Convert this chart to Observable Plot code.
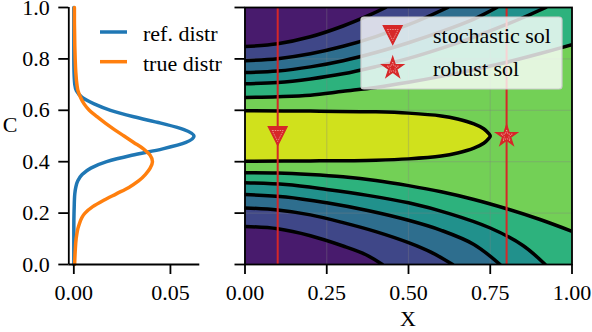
<!DOCTYPE html>
<html><head><meta charset="utf-8">
<script src="https://cdn.jsdelivr.net/npm/d3@7"></script>
<script src="https://cdn.jsdelivr.net/npm/@observablehq/plot@0.6"></script>
<style>
html,body{margin:0;padding:0;background:#fff;}
#chart{position:relative;width:592px;height:332px;overflow:hidden;}
#chart svg{position:absolute;left:0;top:0;}
</style></head><body><div id="chart"></div>
<script>
// ---------- data ----------
const densC      = [0,0.05,0.1,0.15,0.2,0.225,0.25,0.275,0.3,0.325,0.35,0.375,0.4,0.425,0.45,0.475,0.5,0.525,0.55,0.575,0.6,0.625,0.65,0.675,0.7,0.75,0.8,0.85,0.9,0.95,1.0];
const refDistr   = [0,0,0,0,0.0001,0.0002,0.0003,0.0005,0.001,0.002,0.0043,0.0088,0.017,0.030,0.046,0.058,0.0622,0.057,0.045,0.031,0.019,0.0105,0.0043,0.0014,0.0005,0.0001,0,0,0,0,0];
const trueDistr  = [0.0004,0.0007,0.0012,0.0025,0.0058,0.0098,0.0155,0.022,0.0285,0.0335,0.037,0.0395,0.0407,0.0395,0.036,0.031,0.026,0.021,0.0163,0.012,0.008,0.0053,0.0035,0.0022,0.0016,0.001,0.0007,0.0005,0.0004,0.0003,0.0003];
const densTicks  = [0, 0.05];
const cTicks     = [0, 0.2, 0.4, 0.6, 0.8, 1.0];
const xTicks     = [0, 0.25, 0.5, 0.75, 1.0];

// contour lines [X, C], outermost (1) to innermost (5)
const upper1 = [[0,0.848],[0.1,0.859],[0.2,0.886],[0.3,0.928],[0.38,0.970],[0.43,1.0]];
const upper2 = [[0,0.793],[0.1,0.801],[0.2,0.820],[0.3,0.849],[0.4,0.887],[0.5,0.933],[0.56,0.965],[0.62,1.0]];
const upper3 = [[0,0.747],[0.1,0.753],[0.2,0.769],[0.3,0.793],[0.4,0.825],[0.5,0.863],[0.6,0.906],[0.7,0.955],[0.77,1.0]];
const upper4 = [[0,0.703],[0.1,0.708],[0.2,0.722],[0.3,0.742],[0.4,0.770],[0.5,0.802],[0.6,0.841],[0.7,0.885],[0.8,0.934],[0.86,0.966],[0.92,1.0]];
const upper5 = [[0,0.650],[0.1,0.653],[0.2,0.659],[0.3,0.674],[0.4,0.689],[0.5,0.709],[0.6,0.732],[0.7,0.758],[0.8,0.787],[0.9,0.820],[1.0,0.855]];
const lower1 = [[0,0.148],[0.1,0.139],[0.2,0.112],[0.3,0.072],[0.37,0.038],[0.42,0]];
const lower2 = [[0,0.220],[0.1,0.212],[0.2,0.193],[0.3,0.163],[0.4,0.128],[0.5,0.085],[0.57,0.047],[0.635,0]];
const lower3 = [[0,0.272],[0.125,0.263],[0.25,0.240],[0.375,0.210],[0.5,0.172],[0.6,0.133],[0.7,0.078],[0.78,0]];
const lower4 = [[0,0.318],[0.125,0.311],[0.25,0.292],[0.375,0.269],[0.5,0.240],[0.625,0.198],[0.75,0.142],[0.85,0.074],[0.918,0]];
const lower5 = [[0,0.357],[0.1,0.356],[0.2,0.350],[0.3,0.341],[0.4,0.327],[0.5,0.307],[0.6,0.283],[0.7,0.253],[0.8,0.217],[0.9,0.176],[1.0,0.129]];
// innermost (yellow) region
const yellowX     = [0, 0.2, 0.4, 0.5, 0.6, 0.65, 0.7, 0.73, 0.745, 0.75];
const yellowUpper = [0.598, 0.597, 0.594, 0.589, 0.578, 0.566, 0.547, 0.528, 0.51, 0.5];
const yellowLower = [0.402, 0.403, 0.406, 0.411, 0.422, 0.434, 0.453, 0.472, 0.49, 0.5];

const solutions = [
  {name: "stochastic sol", x: 0.1, c: 0.5},
  {name: "robust sol",     x: 0.8, c: 0.5}
];
const densLegend = ["ref. distr", "true distr"];

// ---------- style ----------
const blue = "#1f77b4", orange = "#ff7f0e", red = "#d62728";
const bandColors = d3.range(7).map(i => d3.interpolateViridis((i + 0.5) / 7));
const FONT = "Liberation Serif, Times New Roman, DejaVu Serif, serif";
const FS = 22;
const style = {background: "transparent", overflow: "visible"};
const cDomain = [0, 1];
const xDomain = [0, 1];
const densDomain = [-0.0026, 0.0652];
const triangleDown = {draw(ctx, size) { const r = Math.sqrt(size / Math.PI); ctx.moveTo(-r, -r); ctx.lineTo(r, -r); ctx.lineTo(0, r); ctx.closePath(); }};

const chart = document.getElementById("chart");
function serifText(node) {
  d3.select(node).style("font-family", FONT).style("font-size", FS + "px");
  d3.select(node).selectAll("text").style("font-family", FONT).style("font-size", FS + "px");
  return node;
}

// ---------- left panel ----------
const densRows = densC.map((c, i) => ({c, ref: refDistr[i], tru: trueDistr[i]}));
const left = Plot.plot({
  width: 592, height: 332,
  marginLeft: 68.3, marginRight: 592 - 199.3, marginTop: 7, marginBottom: 68,
  x: {domain: densDomain},
  y: {domain: cDomain},
  style,
  marks: [
    Plot.line(densRows, {x: "ref", y: "c", stroke: blue, strokeWidth: 3.5, curve: "monotone-y"}),
    Plot.line(densRows, {x: "tru", y: "c", stroke: orange, strokeWidth: 3.5, curve: "monotone-y"}),
    Plot.ruleX([densDomain[0]], {stroke: "black", strokeWidth: 1.8}),
    Plot.ruleY([cDomain[0]], {stroke: "black", strokeWidth: 1.8}),
    Plot.axisY({ticks: cTicks, tickFormat: d3.format(".1f"), tickSize: 10, tickPadding: 9, strokeWidth: 1.8, label: null}),
    Plot.axisX({ticks: densTicks, tickFormat: d3.format(".2f"), tickSize: 10, tickPadding: 10, strokeWidth: 1.8, label: null})
  ]
});
chart.appendChild(serifText(left));

// ---------- right panel ----------
const uppers = [upper1, upper2, upper3, upper4, upper5];
const lowers = [lower1, lower2, lower3, lower4, lower5];
const yellowRows = yellowX.map((x, i) => ({x, lo: yellowLower[i], hi: yellowUpper[i]}));
const yellowLoop = yellowX.map((x, i) => [x, yellowUpper[i]])
  .concat(yellowX.slice(0, -1).map((x, i) => [x, yellowLower[i]]).reverse());
const CURVE = "catmull-rom";

const marks = [Plot.frame({fill: bandColors[5], stroke: "none"})];
for (let i = uppers.length - 1; i >= 0; --i) {
  marks.push(Plot.areaY(uppers[i], {x: d => d[0], y1: () => cDomain[1], y2: d => d[1], fill: bandColors[i], curve: CURVE}));
  marks.push(Plot.areaY(lowers[i], {x: d => d[0], y1: () => cDomain[0], y2: d => d[1], fill: bandColors[i], curve: CURVE}));
}
marks.push(Plot.areaY(yellowRows, {x: "x", y1: "lo", y2: "hi", fill: bandColors[6], curve: CURVE}));
marks.push(Plot.gridX({ticks: xTicks, stroke: "#808080", strokeOpacity: 0.3, strokeWidth: 1.2}));
marks.push(Plot.gridY({ticks: cTicks, stroke: "#808080", strokeOpacity: 0.3, strokeWidth: 1.2}));
for (const pts of [...uppers, ...lowers]) {
  marks.push(Plot.line(pts, {x: d => d[0], y: d => d[1], stroke: "black", strokeWidth: 3.5, curve: CURVE}));
}
marks.push(Plot.line(yellowLoop, {x: d => d[0], y: d => d[1], stroke: "black", strokeWidth: 3.5, curve: CURVE}));
marks.push(Plot.ruleX(solutions, {x: "x", stroke: red, strokeWidth: 2}));
marks.push(Plot.dot([solutions[0]], {x: "x", y: "c", symbol: triangleDown, r: 9.5, fill: red, stroke: red, strokeWidth: 1.2}));
marks.push(Plot.dot([solutions[0]], {x: "x", y: "c", symbol: triangleDown, r: 5.5, fill: "none", stroke: "#f5a3a3", strokeWidth: 0.8, strokeDasharray: "1.5,1"}));
marks.push(Plot.dot([solutions[1]], {x: "x", y: "c", symbol: "star", r: 6.8, fill: red, stroke: red, strokeWidth: 1.2}));
marks.push(Plot.dot([solutions[1]], {x: "x", y: "c", symbol: "star", r: 3.6, fill: "none", stroke: "#f5a3a3", strokeWidth: 0.8, strokeDasharray: "1.5,1"}));
marks.push(Plot.frame({stroke: "black", strokeWidth: 1.8}));
marks.push(Plot.axisX({ticks: xTicks, tickFormat: d3.format(".2f"), tickSize: 10, tickPadding: 10, strokeWidth: 1.8, label: null}));
marks.push(Plot.axisY({ticks: cTicks, tickFormat: () => "", tickSize: 10, strokeWidth: 1.8, label: null}));

const right = Plot.plot({
  width: 592, height: 332,
  marginLeft: 244.5, marginRight: 20.5, marginTop: 7, marginBottom: 68,
  x: {domain: xDomain},
  y: {domain: cDomain},
  clip: true,
  style,
  marks
});
chart.appendChild(serifText(right));

// ---------- labels & legends (overlay) ----------
const svg = d3.select(chart).append("svg")
  .attr("width", 592).attr("height", 332)
  .style("font-family", FONT).style("font-size", FS + "px");
svg.append("text").attr("x", 10).attr("y", 132).attr("text-anchor", "middle").text("C");
svg.append("text").attr("x", 408).attr("y", 326).attr("text-anchor", "middle").text("X");

// left legend
[blue, orange].forEach((col, i) => {
  const y = 32 + i * 29.7;
  svg.append("line").attr("x1", 100).attr("x2", 127).attr("y1", y).attr("y2", y)
    .attr("stroke", col).attr("stroke-width", 3.5);
  svg.append("text").attr("x", 143).attr("y", y + 9).text(densLegend[i]);
});

// right legend
svg.append("rect").attr("x", 361).attr("y", 17).attr("width", 201).attr("height", 72).attr("rx", 3)
  .attr("fill", "white").attr("fill-opacity", 0.8).attr("stroke", "#cccccc").attr("stroke-width", 1.2);
const symTypes = [triangleDown, d3.symbolStar];
const symR = [9.5, 6.8], symRi = [5.5, 3.6];
solutions.forEach((s, i) => {
  const y = 35 + i * 33;
  const g = svg.append("g").attr("transform", `translate(392.7,${y})`);
  g.append("path").attr("d", d3.symbol(symTypes[i], Math.PI * symR[i] ** 2)())
    .attr("fill", red).attr("stroke", red).attr("stroke-width", 1.2);
  g.append("path").attr("d", d3.symbol(symTypes[i], Math.PI * symRi[i] ** 2)())
    .attr("fill", "none").attr("stroke", "#f5a3a3").attr("stroke-width", 0.8).attr("stroke-dasharray", "1.5,1");
  svg.append("text").attr("x", 433).attr("y", y + 8).text(s.name);
});
</script></body></html>
